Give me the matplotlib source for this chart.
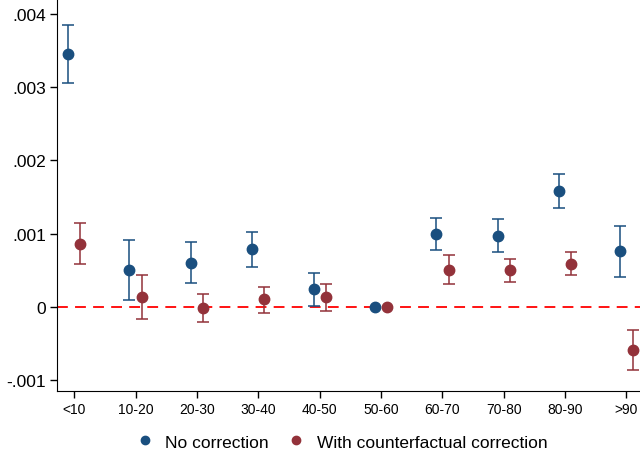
import numpy as np
import matplotlib.pyplot as plt

plt.rcParams['font.family'] = ['Liberation Sans', 'DejaVu Sans']

categories = ['<10', '10-20', '20-30', '30-40', '40-50', '50-60', '60-70', '70-80', '80-90', '>90']

no_corr = [0.00345, 0.000505, 0.000605, 0.00079, 0.00024, 0.0, 0.0010, 0.00097, 0.00158, 0.00076]
no_corr_hi = [0.00384, 0.00092, 0.00088, 0.00102, 0.00046, 0.0, 0.00121, 0.00120, 0.00181, 0.00111]
no_corr_lo = [0.00306, 0.00010, 0.00033, 0.00055, 0.00002, 0.0, 0.00078, 0.00075, 0.00135, 0.00041]

cf_corr = [0.00086, 0.00013, -0.00002, 0.00011, 0.00014, 0.0, 0.00050, 0.00050, 0.00059, -0.00059]
cf_corr_hi = [0.00114, 0.00043, 0.00018, 0.00027, 0.00032, 0.0, 0.00071, 0.00065, 0.00075, -0.00032]
cf_corr_lo = [0.00058, -0.00016, -0.00021, -0.00008, -0.00005, 0.0, 0.00032, 0.00034, 0.00043, -0.00086]

blue = '#1a4f7f'
red = '#93323a'


def draw_series(ax, x, y, lo, hi, color, label):
    y = np.array(y)
    err = [y - np.array(lo), np.array(hi) - y]
    has_ci = np.array(hi) != np.array(lo)
    ax.errorbar(x[has_ci], y[has_ci], yerr=[err[0][has_ci], err[1][has_ci]], fmt='none',
                ecolor=color, elinewidth=1.3, capsize=4, capthick=1.3, alpha=0.85, zorder=2)
    ax.plot(x, y, 'o', color=color, markersize=7.5, label=label, zorder=3)


fig = plt.figure(figsize=(6.4, 4.56), dpi=100)
ax = fig.add_axes([57 / 640, 1 - 392 / 456, 1 - 57 / 640, 392 / 456])

pos = np.arange(1, len(categories) + 1)
ax.axhline(0, color='#ff0000', lw=1.3, ls=(0, (6, 4)), zorder=1)
draw_series(ax, pos - 0.1, no_corr, no_corr_lo, no_corr_hi, blue, 'No correction')
draw_series(ax, pos + 0.1, cf_corr, cf_corr_lo, cf_corr_hi, red, 'With counterfactual correction')

ax.set_xlim(0.72, 10.22)
ax.set_ylim(-0.001146, 0.0042)
ax.set_xticks(pos)
ax.set_xticklabels(categories, fontsize=10)
ax.set_yticks([-0.001, 0, 0.001, 0.002, 0.003, 0.004])
ax.set_yticklabels(['-.001', '0', '.001', '.002', '.003', '.004'], fontsize=12.5)
ax.tick_params(axis='both', direction='out', length=5, width=1, pad=3)

for side in ['top', 'right']:
    ax.spines[side].set_visible(False)

fig.legend(loc='center', bbox_to_anchor=(0.527, 1 - 443 / 456), ncol=2, frameon=False,
           fontsize=12.5, handletextpad=0.2, columnspacing=0.55, markerscale=0.8)

fig.savefig('out.png', dpi=100)
